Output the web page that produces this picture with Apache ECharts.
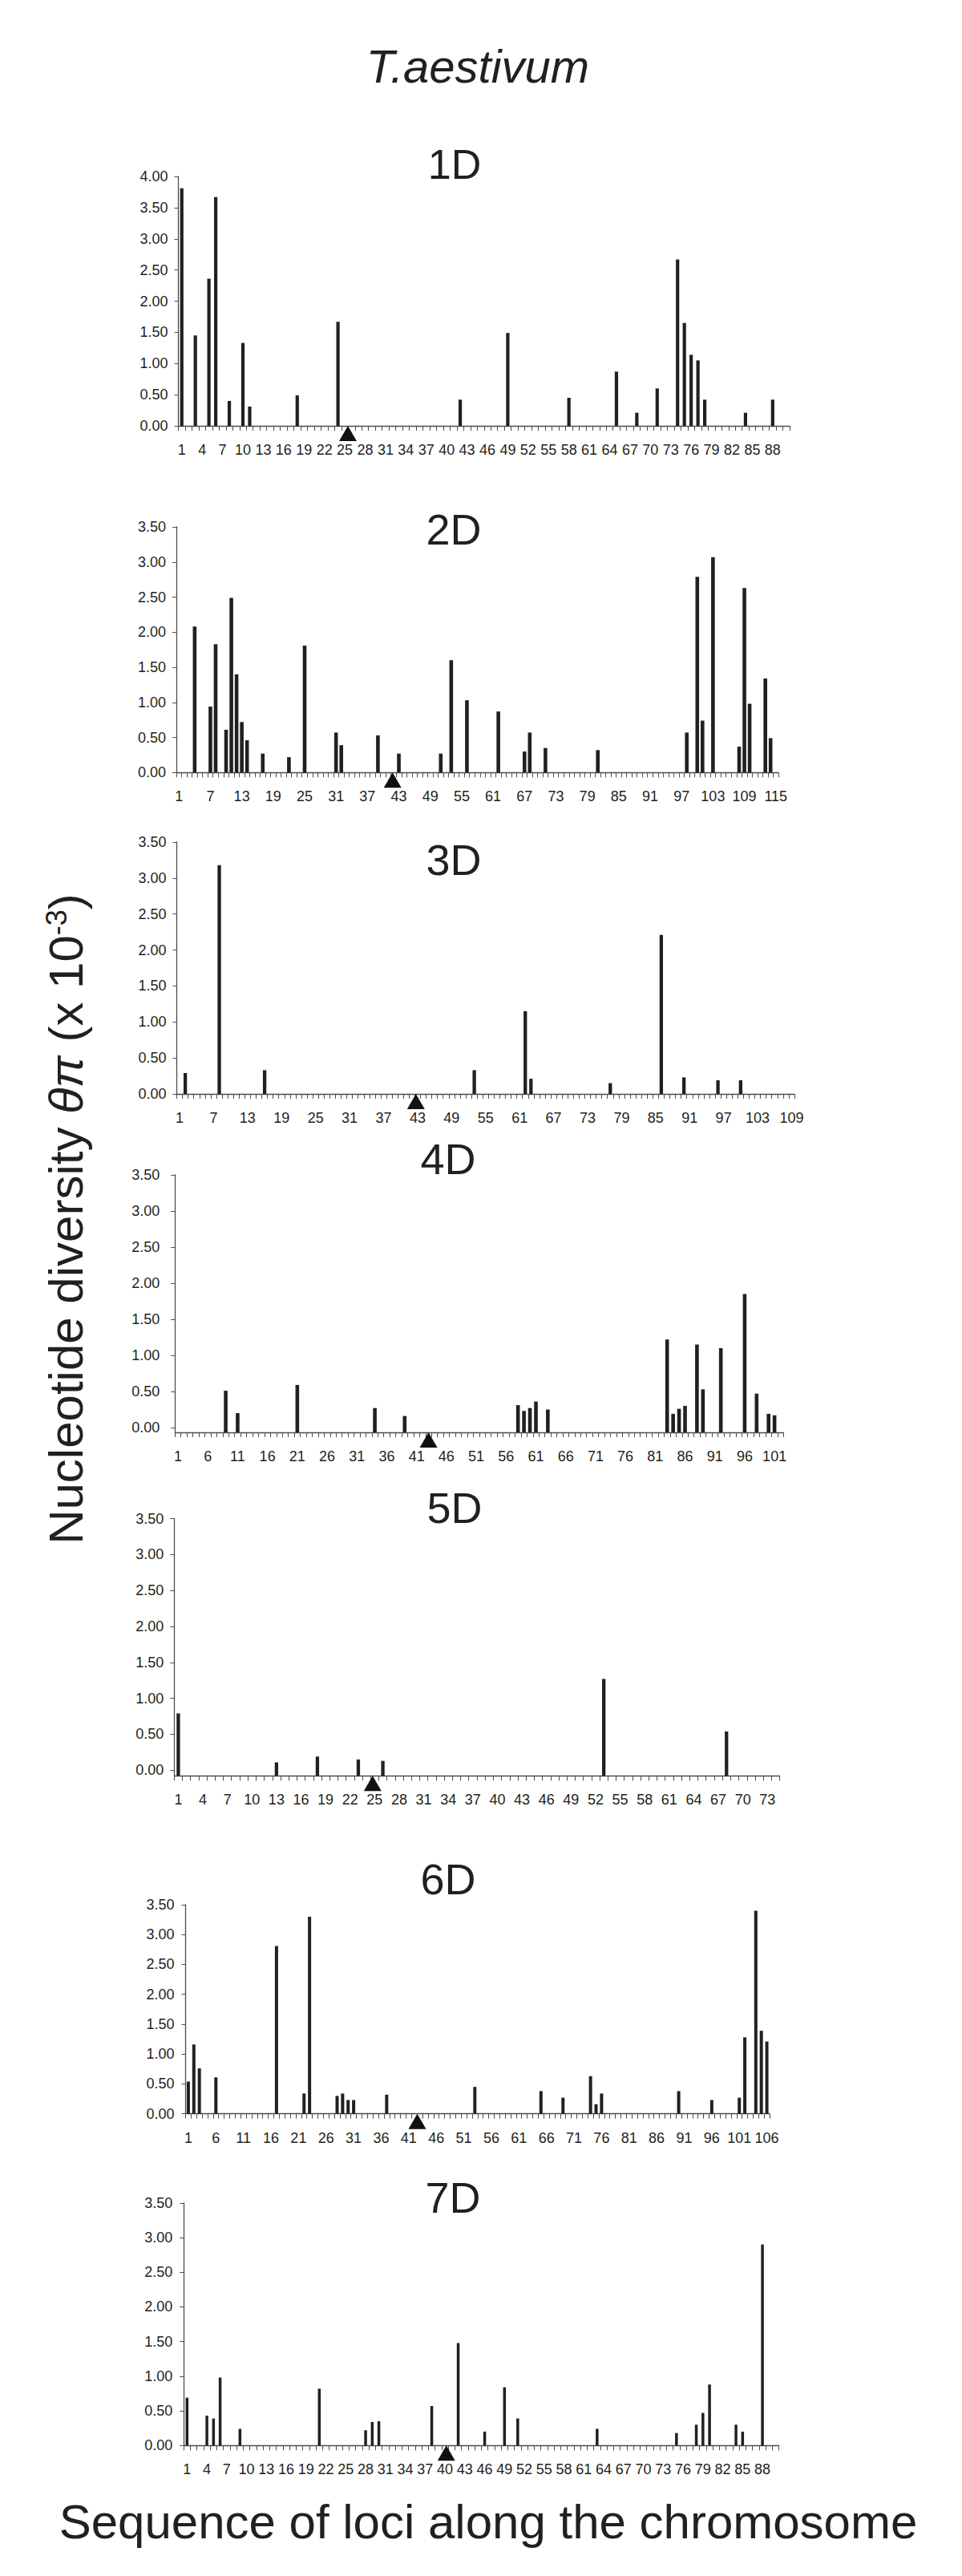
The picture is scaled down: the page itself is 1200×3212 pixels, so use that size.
<!DOCTYPE html>
<html><head><meta charset="utf-8">
<script src="https://cdn.jsdelivr.net/npm/echarts@6/dist/echarts.min.js"></script>
<style>html,body{margin:0;padding:0;background:#fff}#c{width:1200px;height:3212px}</style>
</head><body><div id="c"></div>
<script>
// ---------- DATA ----------
const chromosomes = ['1D','2D','3D','4D','5D','6D','7D'];
const lociCount   = [90, 115, 109, 102, 74, 106, 90];
const labelStep   = [3, 6, 6, 5, 3, 5, 3];
const yMaxValue   = [4, 3.5, 3.5, 3.5, 3.5, 3.5, 3.5];
const yTickValues = [0, 0.5, 1, 1.5, 2, 2.5, 3, 3.5, 4];
const centromere  = [25.46, 41.8, 42.7, 43.0, 24.75, 42.55, 40.2];

const loci1D  = [1,3,5,6,8,10,11,18,24,42,49,58,65,68,71,74,75,76,77,78,84,88];
const theta1D = [3.81,1.45,2.36,3.67,0.40,1.33,0.31,0.49,1.67,0.42,1.49,0.45,0.87,0.21,0.60,2.67,1.65,1.14,1.05,0.42,0.21,0.42];

const loci2D  = [4,7,8,10,11,12,13,14,17,22,25,31,32,39,43,51,53,56,62,67,68,71,81,98,100,101,103,108,109,110,113,114];
const theta2D = [2.08,0.94,1.83,0.61,2.49,1.40,0.72,0.46,0.27,0.22,1.81,0.57,0.39,0.53,0.27,0.27,1.60,1.03,0.87,0.30,0.57,0.35,0.32,0.57,2.79,0.74,3.07,0.37,2.63,0.98,1.34,0.49];

const loci3D  = [2,8,16,53,62,63,77,86,90,96,100];
const theta3D = [0.29,3.18,0.33,0.33,1.15,0.21,0.15,2.21,0.23,0.19,0.19];

const loci4D  = [9,11,21,34,39,58,59,60,61,63,83,84,85,86,88,89,92,96,98,100,101];
const theta4D = [0.51,0.20,0.59,0.27,0.16,0.31,0.23,0.27,0.36,0.25,1.22,0.19,0.26,0.30,1.15,0.53,1.10,1.85,0.47,0.19,0.17];

const loci5D  = [1,13,18,23,26,53,68];
const theta5D = [0.79,0.11,0.19,0.15,0.13,1.27,0.54];

const loci6D  = [1,2,3,6,17,22,23,28,29,30,31,37,53,65,69,74,75,76,90,96,101,102,104,105,106];
const theta6D = [0.54,1.16,0.76,0.61,2.81,0.34,3.30,0.30,0.34,0.23,0.23,0.32,0.45,0.38,0.27,0.63,0.16,0.34,0.38,0.23,0.27,1.28,3.40,1.39,1.21];

const loci7D  = [1,4,5,6,9,21,28,29,30,38,42,46,49,51,63,75,78,79,80,84,85,88];
const theta7D = [0.69,0.43,0.39,0.98,0.24,0.82,0.22,0.34,0.35,0.57,1.48,0.20,0.84,0.39,0.24,0.18,0.30,0.47,0.88,0.30,0.20,2.90];

const lociAll  = [loci1D, loci2D, loci3D, loci4D, loci5D, loci6D, loci7D];
const thetaAll = [theta1D, theta2D, theta3D, theta4D, theta5D, theta6D, theta7D];

// ---------- LAYOUT (pixels) ----------
const layout = [
  {left:222.5, right:985,   top:220,    zero:531,    base:531,    barW:4.2, labM:13, title:[567,205], tsize:52},
  {left:220,   right:971,   top:657,    zero:963.3,  base:963.3,  barW:4.6, labM:13, title:[566,660], tsize:54},
  {left:220.5, right:991,   top:1050,   zero:1364,   base:1364,   barW:4.3, labM:13, title:[566,1072], tsize:54},
  {left:218.3, right:977.3, top:1465,   zero:1780,   base:1786,   barW:4.6, labM:19, title:[559,1445], tsize:54},
  {left:217.3, right:972.6, top:1893.5, zero:2207.3, base:2214.3, barW:4.3, labM:13, title:[567,1880], tsize:54},
  {left:231.5, right:960,   top:2375,   zero:2635.7, base:2635.7, barW:4.0, labM:14, title:[559,2343], tsize:54},
  {left:229.2, right:971.7, top:2746.8, zero:3049.3, base:3049.3, barW:3.5, labM:14, title:[565,2740], tsize:54}
];

const FONT = "'Liberation Sans', Arial, Helvetica, sans-serif";
const INK = '#231f20';
const AXIS = '#4d4d4f';

const grid = [], xAxis = [], yAxis = [], series = [], graphic = [];

chromosomes.forEach((chr, i) => {
  const L = layout[i];
  const n = lociCount[i];
  const yMax = yMaxValue[i];
  const pxPerUnit = (L.zero - L.top) / yMax;
  const yMin = L.base > L.zero ? -(L.base - L.zero) / pxPerUnit : 0;
  const ticks = yTickValues.filter(v => v <= yMax + 1e-9);
  const cats = [];
  for (let k = 1; k <= n; k++) cats.push(String(k));

  grid.push({left: L.left, top: L.top, width: L.right - L.left, height: L.base - L.top, containLabel: false});

  xAxis.push({
    type: 'category', gridIndex: i, data: cats, boundaryGap: true,
    axisLine: {show: true, onZero: false, lineStyle: {color: AXIS, width: 1.3}},
    axisTick: {show: true, interval: 0, length: 6, alignWithLabel: false, lineStyle: {color: AXIS, width: 1}},
    axisLabel: {interval: labelStep[i] - 1, margin: 21, fontSize: 18, fontFamily: FONT, color: INK, hideOverlap: false},
    splitLine: {show: false}
  });
  xAxis.push({type: 'value', gridIndex: i, min: 0.5, max: n + 0.5, show: false});

  yAxis.push({
    type: 'value', gridIndex: i, min: yMin, max: yMax, startValue: yMin,
    interval: yMin === 0 ? 0.5 : undefined,
    axisLine: {show: true, lineStyle: {color: AXIS, width: 1.3}},
    axisTick: {show: true, length: 5, customValues: ticks, lineStyle: {color: AXIS, width: 1}},
    axisLabel: {customValues: ticks, margin: L.labM, fontSize: 18, fontFamily: FONT, color: INK,
                formatter: v => Number(v).toFixed(2)},
    splitLine: {show: false}
  });

  series.push({
    type: 'bar', name: chr, xAxisIndex: 2 * i, yAxisIndex: i,
    data: lociAll[i].map((locus, k) => [String(locus), thetaAll[i][k]]),
    barWidth: L.barW, itemStyle: {color: INK, opacity: 1}, silent: true, animation: false
  });
  series.push({
    type: 'scatter', name: chr + ' centromere', xAxisIndex: 2 * i + 1, yAxisIndex: i,
    data: [[centromere[i], yMin]], symbol: 'triangle', symbolSize: [22, 19], symbolOffset: [0, 9.5],
    itemStyle: {color: '#111', opacity: 1}, silent: true, animation: false, z: 5
  });

  graphic.push({
    type: 'text', x: L.title[0], y: L.title[1],
    style: {text: chr, font: `${L.tsize}px ${FONT}`, fill: INK, align: 'center', verticalAlign: 'middle'}
  });
});

graphic.push({
  type: 'text', x: 596, y: 82,
  style: {text: 'T.aestivum', font: `italic 58px ${FONT}`, fill: INK, align: 'center', verticalAlign: 'middle'}
});
graphic.push({
  type: 'text', x: 609, y: 3144,
  style: {text: 'Sequence of loci along the chromosome', font: `60px ${FONT}`, fill: INK, align: 'center', verticalAlign: 'middle'}
});
graphic.push({
  type: 'text', x: 82, y: 1520, rotation: Math.PI / 2,
  style: {
    text: '{n|Nucleotide diversity }{g|θπ}{n| (x 10}{s|-3}{n|)}',
    align: 'center', verticalAlign: 'middle', fill: INK,
    rich: {
      n: {fontSize: 60, fontFamily: FONT, fill: INK},
      g: {fontSize: 60, fontFamily: FONT, fontStyle: 'italic', fill: INK},
      s: {fontSize: 36, fontFamily: FONT, fill: INK, verticalAlign: 'top'}
    }
  }
});

const chart = echarts.init(document.getElementById('c'), null, {renderer: 'svg'});
chart.setOption({
  backgroundColor: '#ffffff',
  animation: false,
  grid, xAxis, yAxis, series, graphic
});
</script>
</body></html>
